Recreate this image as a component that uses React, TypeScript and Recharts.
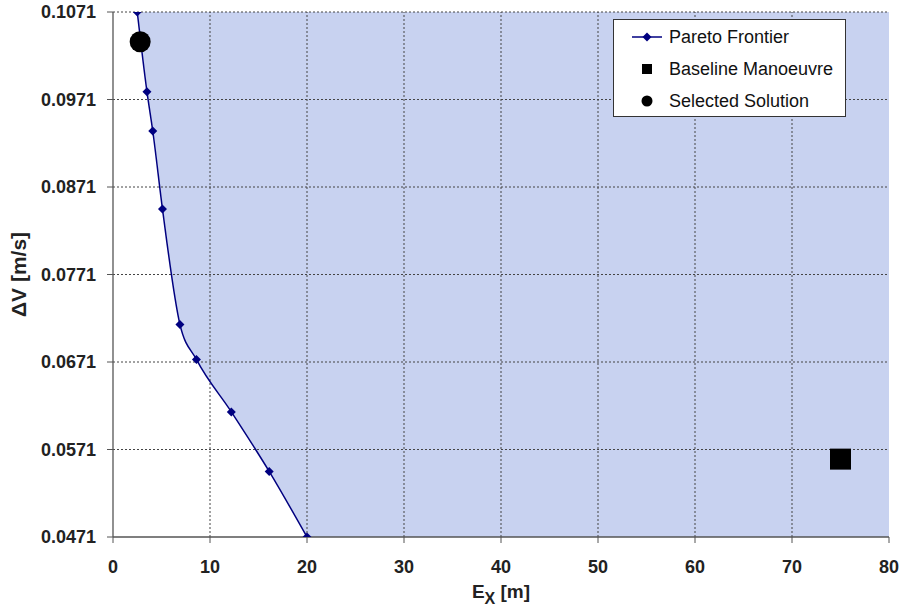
import React from 'react'
import { ComposedChart, XAxis, YAxis, CartesianGrid, Line, Area, Scatter, ReferenceLine, ReferenceArea, Legend, Label } from 'recharts'

// Pareto frontier (E_X in m, ΔV in m/s)
const frontierEx = [2.5, 3.5, 4.1, 5.1, 6.9, 8.6, 12.2, 16.1, 20.0];
const frontierDv = [0.1071, 0.0980, 0.0935, 0.0846, 0.0714, 0.0674, 0.0614, 0.0546, 0.0471];

const baselineEx = [75.0];
const baselineDv = [0.0560];

const selectedEx = [2.8];
const selectedDv = [0.1037];

const xTicks = [0, 10, 20, 30, 40, 50, 60, 70, 80];
const yTicks = [0.0471, 0.0571, 0.0671, 0.0771, 0.0871, 0.0971, 0.1071];

const seriesNames = ['Pareto Frontier', 'Baseline Manoeuvre', 'Selected Solution'];

const frontier = frontierEx.map((x, i) => ({ x, y: frontierDv[i] }));
const baseline = baselineEx.map((x, i) => ({ x, y: baselineDv[i] }));
const selected = selectedEx.map((x, i) => ({ x, y: selectedDv[i] }));

const NAVY = '#000080';
const FILL = '#c8d2f0';
const FONT = '"Liberation Sans", Arial, sans-serif';

const tickStyle = { fontSize: 18, fontWeight: 'bold', fill: '#222', fontFamily: FONT };

function Diamond(props: any) {
  const { cx, cy } = props;
  if (cx == null || cy == null) return null;
  const r = 4.5;
  return <path d={`M${cx},${cy - r}L${cx + r},${cy}L${cx},${cy + r}L${cx - r},${cy}Z`} fill={NAVY} />;
}

function XLabel(props: any) {
  const vb = props.viewBox;
  return (
    <text x={vb.x + vb.width / 2} y={vb.y + 61} textAnchor="middle" fontSize={19} fontWeight="bold" fill="#222" fontFamily={FONT}>
      E<tspan dy={6} fontSize={16}>X</tspan><tspan dy={-6}> [m]</tspan>
    </text>
  );
}

function LegendBox() {
  const marker = (i: number) => {
    if (i === 0) {
      return (
        <svg width={30} height={12}>
          <line x1={0} y1={6} x2={30} y2={6} stroke={NAVY} strokeWidth={1.5} />
          <path d="M15,1.5L19.5,6L15,10.5L10.5,6Z" fill={NAVY} />
        </svg>
      );
    }
    if (i === 1) {
      return (
        <svg width={30} height={12}>
          <rect x={10} y={1} width={10} height={10} fill="#000" />
        </svg>
      );
    }
    return (
      <svg width={30} height={12}>
        <circle cx={15} cy={6} r={5.5} fill="#000" />
      </svg>
    );
  };
  return (
    <div style={{ width: 231, height: 95, border: '1px solid #333', background: '#fff', paddingTop: 1, boxSizing: 'content-box', fontFamily: FONT }}>
      {seriesNames.map((name, i) => (
        <div key={name} style={{ height: 32, display: 'flex', alignItems: 'center' }}>
          <div style={{ width: 18 }} />
          {marker(i)}
          <span style={{ marginLeft: 7, fontSize: 18, color: '#111', whiteSpace: 'nowrap' }}>{name}</span>
        </div>
      ))}
    </div>
  );
}

export default function App() {
  return (
    <div style={{ position: 'absolute', left: 0, top: 0, width: 904, height: 612, background: '#fff' }}>
      <ComposedChart width={904} height={612} margin={{ top: 12, right: 15, bottom: 0, left: 0 }}>
        <CartesianGrid horizontal={false} vertical={false} fill={FILL} fillOpacity={1} />
        <XAxis
          type="number"
          dataKey="x"
          domain={[0, 80]}
          ticks={xTicks}
          allowDataOverflow
          height={75}
          tick={tickStyle}
          tickSize={6}
          tickMargin={17}
          axisLine={{ stroke: '#555', strokeWidth: 1.3 }}
          tickLine={{ stroke: '#555' }}
        >
          <Label content={XLabel} />
        </XAxis>
        <YAxis
          type="number"
          dataKey="y"
          domain={[0.0471, 0.1071]}
          ticks={yTicks}
          allowDataOverflow
          width={113}
          tick={tickStyle}
          tickSize={6}
          tickMargin={11}
          tickFormatter={(v: number) => v.toFixed(4)}
          axisLine={{ stroke: '#555', strokeWidth: 1.3 }}
          tickLine={{ stroke: '#555' }}
        >
          <Label
            value="ΔV [m/s]"
            angle={-90}
            position="insideLeft"
            offset={19}
            style={{ textAnchor: 'middle', fontSize: 21, fontWeight: 'bold', fill: '#222', fontFamily: FONT }}
          />
        </YAxis>
        <ReferenceArea x1={0} x2={frontierEx[0]} fill="#fff" fillOpacity={1} stroke="#fff" strokeWidth={1.5} />
        <Area
          data={frontier}
          dataKey="y"
          type="monotone"
          baseValue={0.0471}
          fill="#fff"
          fillOpacity={1}
          stroke="#fff"
          strokeWidth={1}
          legendType="none"
          isAnimationActive={false}
        />
        {xTicks.slice(1, -1).map((t) => (
          <ReferenceLine key={'vx' + t} x={t} stroke="#444" strokeDasharray="2 2" />
        ))}
        {yTicks.slice(1).map((t) => (
          <ReferenceLine key={'hy' + t} y={t} stroke="#444" strokeDasharray="2 2" />
        ))}
        <Line
          data={frontier}
          dataKey="y"
          name={seriesNames[0]}
          type="monotone"
          stroke={NAVY}
          strokeWidth={1.5}
          dot={<Diamond />}
          activeDot={false}
          isAnimationActive={false}
        />
        <Scatter
          data={baseline}
          dataKey="y"
          name={seriesNames[1]}
          shape={(p: any) => <rect x={p.cx - 10.5} y={p.cy - 10.5} width={21} height={21} fill="#000" />}
          isAnimationActive={false}
        />
        <Scatter
          data={selected}
          dataKey="y"
          name={seriesNames[2]}
          shape={(p: any) => <circle cx={p.cx} cy={p.cy} r={10.5} fill="#000" />}
          isAnimationActive={false}
        />
        <Legend
          layout="vertical"
          align="center"
          verticalAlign="middle"
          wrapperStyle={{ left: 613, top: 19, width: 233 }}
          content={() => <LegendBox />}
        />
      </ComposedChart>
    </div>
  );
}
